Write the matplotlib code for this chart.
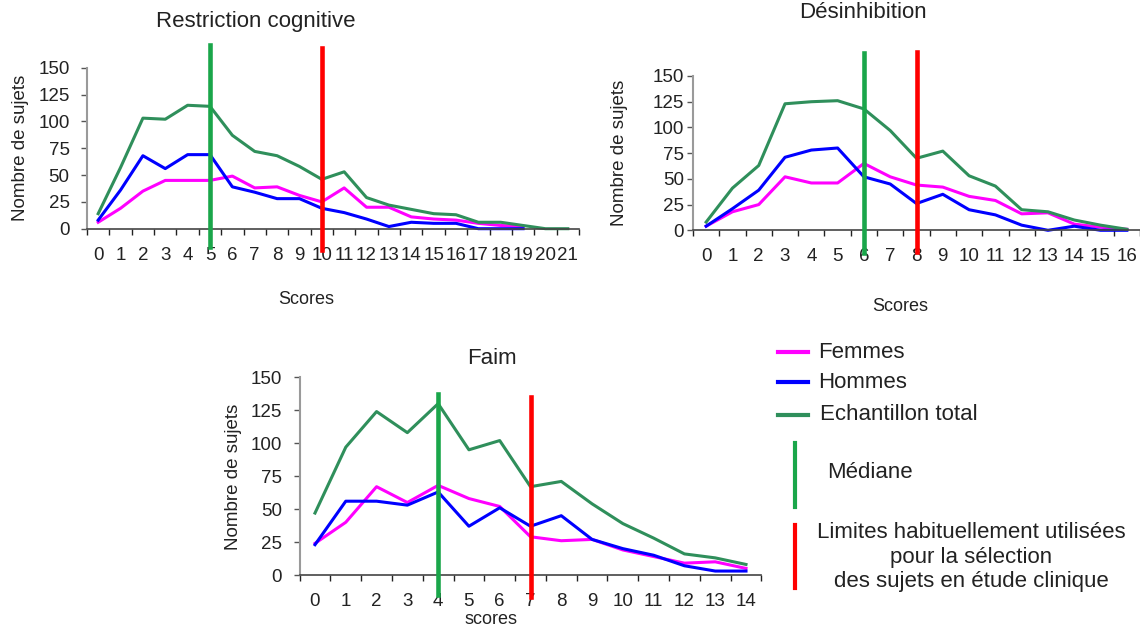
import numpy as np
import matplotlib
matplotlib.use("Agg")
import matplotlib.pyplot as plt
from matplotlib import transforms
from matplotlib.lines import Line2D

plt.rcParams['font.family'] = ['Liberation Sans', 'DejaVu Sans']

# --- données ---
rc_femmes = [6, 19, 35, 45, 45, 45, 49, 38, 39, 31, 25, 38, 20, 20, 11, 9, 8, 5, 3, 2]
rc_hommes = [8, 36, 68, 56, 69, 69, 39, 34, 28, 28, 19, 15, 9, 2, 6, 5, 5, 0, 0, 0]
rc_total = [14, 57, 103, 102, 115, 114, 87, 72, 68, 58, 46, 53, 29, 22, 18, 14, 13, 6, 6, 3, 0, 0]
rc_mediane, rc_limite = 5, 10

des_femmes = [4, 18, 25, 52, 46, 46, 65, 52, 44, 42, 33, 29, 16, 17, 6, 3, 1]
des_hommes = [4, 21, 39, 71, 78, 80, 52, 45, 26, 35, 20, 15, 5, 0, 4, 0, 0]
des_total = [8, 41, 63, 123, 125, 126, 118, 97, 70, 77, 53, 43, 20, 18, 10, 5, 1]
des_mediane, des_limite = 6, 8

faim_femmes = [24, 40, 67, 55, 68, 58, 52, 29, 26, 27, 19, 14, 9, 10, 5]
faim_hommes = [23, 56, 56, 53, 63, 37, 51, 37, 45, 27, 20, 15, 7, 3, 3]
faim_total = [47, 97, 124, 108, 130, 95, 102, 67, 71, 54, 39, 28, 16, 13, 8]
faim_mediane, faim_limite = 4, 7

y_ticks = [0, 25, 50, 75, 100, 125, 150]

C_FEMMES = '#ff00ff'
C_HOMMES = '#0000ff'
C_TOTAL = '#2f8f5b'
C_MEDIANE = '#1aa64a'
C_LIMITE = '#ff0000'
C_TEXTE = '#222222'

W, H = 1140, 630
fig = plt.figure(figsize=(W / 100, H / 100), dpi=100)


def px_axes(left, top, right, bottom):
    return fig.add_axes([left / W, 1 - bottom / H, (right - left) / W, (bottom - top) / H])


def ftext(x, y, s, **kw):
    kw.setdefault('color', C_TEXTE)
    fig.text(x / W, 1 - y / H, s, **kw)


def panel(ax, femmes, hommes, total, mediane, limite, med_px, lim_px, ypad):
    n = len(total)
    ax.plot(range(len(femmes)), femmes, color=C_FEMMES, lw=2.2, clip_on=False)
    ax.plot(range(len(hommes)), hommes, color=C_HOMMES, lw=2.2, clip_on=False)
    ax.plot(range(n), total, color=C_TOTAL, lw=2.2, clip_on=False)

    # traits verticaux : x en données, y en pixels de la figure
    blend = transforms.blended_transform_factory(ax.transData, fig.transFigure)
    ax.plot([mediane, mediane], [1 - med_px[0] / H, 1 - med_px[1] / H],
            color=C_MEDIANE, lw=3.3, transform=blend, clip_on=False, zorder=5)
    ax.plot([limite, limite], [1 - lim_px[0] / H, 1 - lim_px[1] / H],
            color=C_LIMITE, lw=3.3, transform=blend, clip_on=False, zorder=5)

    ax.set_xlim(-0.5, n - 0.5)
    ax.set_ylim(0, 150)
    ax.set_yticks(y_ticks)
    ax.set_xticks(np.arange(n + 1) - 0.5)
    ax.set_xticklabels([])
    ax.set_xticks(range(n), minor=True)
    ax.set_xticklabels([str(i) for i in range(n)], minor=True)
    ax.tick_params(axis='x', which='major', length=4.5, width=1, color='#222222')
    ax.tick_params(axis='x', which='minor', length=0, pad=13, labelsize=13.5,
                   labelcolor=C_TEXTE)
    ax.tick_params(axis='y', length=4.5, width=1, color='#555555', pad=ypad,
                   labelsize=13.5, labelcolor=C_TEXTE)
    for s in ('top', 'right'):
        ax.spines[s].set_visible(False)
    ax.spines['left'].set_color('#9a9a9a')
    ax.spines['left'].set_linewidth(1.5)
    ax.spines['bottom'].set_color('#444444')
    ax.spines['bottom'].set_linewidth(1.2)
    ax.set_facecolor('none')


# Restriction cognitive
ax1 = px_axes(87, 67.7, 579, 228.7)
panel(ax1, rc_femmes, rc_hommes, rc_total, rc_mediane, rc_limite,
      (45, 247), (48, 250), ypad=8)
ftext(256, 27, 'Restriction cognitive', ha='center', va='baseline', fontsize=16)
ftext(21, 148, 'Nombre de sujets', ha='center', va='center', rotation=90, fontsize=13.5)
ftext(306, 300, 'Scores', ha='center', va='center', fontsize=13)

# Désinhibition
ax2 = px_axes(693, 76, 1140, 230.3)
panel(ax2, des_femmes, des_hommes, des_total, des_mediane, des_limite,
      (53, 253), (52, 252), ypad=2)
ftext(863, 18, 'Désinhibition', ha='center', va='baseline', fontsize=16)
ftext(619, 153, 'Nombre de sujets', ha='center', va='center', rotation=90, fontsize=13.5)
ftext(900, 306, 'Scores', ha='center', va='center', fontsize=13)

# Faim
ax3 = px_axes(299.6, 377.3, 761.4, 575)
panel(ax3, faim_femmes, faim_hommes, faim_total, faim_mediane, faim_limite,
      (394, 595), (396.7, 596.7), ypad=8)
ftext(492, 364, 'Faim', ha='center', va='baseline', fontsize=16)
ftext(234, 477, 'Nombre de sujets', ha='center', va='center', rotation=90, fontsize=13.5)
ftext(491, 620, 'scores', ha='center', va='center', fontsize=13)

# légende dessinée à la main
def fline(xs, ys, color):
    fig.add_artist(Line2D([x / W for x in xs], [1 - y / H for y in ys],
                          color=color, lw=3, transform=fig.transFigure))


fline((778, 808), (352, 352), C_FEMMES)
ftext(818, 352, 'Femmes', va='center', fontsize=16)
fline((778, 808), (382, 382), C_HOMMES)
ftext(818, 382, 'Hommes', va='center', fontsize=16)
fline((778, 808), (415, 415), C_TOTAL)
ftext(820, 415, 'Echantillon total', va='center', fontsize=16)
fline((795, 795), (443, 507), C_MEDIANE)
ftext(827, 473, 'Médiane', va='center', fontsize=16)
fline((795, 795), (525, 588), C_LIMITE)
ftext(971, 557, 'Limites habituellement utilisées\npour la sélection\ndes sujets en étude clinique',
      ha='center', va='center', fontsize=16, linespacing=1.2)

fig.savefig('out.png', dpi=100)
